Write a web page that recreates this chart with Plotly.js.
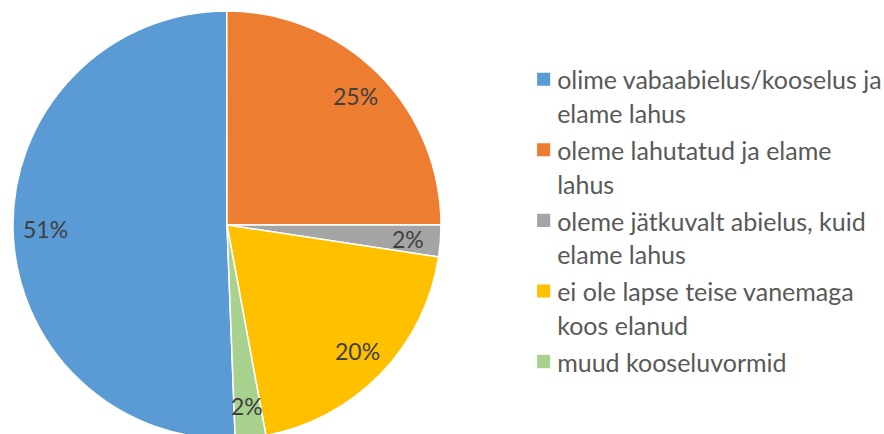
<!DOCTYPE html>
<html>
<head>
<meta charset="utf-8">
<script src="https://cdn.plot.ly/plotly-3.0.1.min.js"></script>
<style>
html,body{margin:0;padding:0;overflow:hidden;background:#fff;}
#chart{width:884px;height:450px;}
</style>
</head>
<body>
<div id="chart"></div>
<script>
var categories = [
  "olime vabaabielus/kooselus ja<br>elame lahus",
  "oleme lahutatud ja elame<br>lahus",
  "oleme jätkuvalt abielus, kuid<br>elame lahus",
  "ei ole lapse teise vanemaga<br>koos elanud",
  "muud kooseluvormid"
];
var values = [50.6, 25.0, 2.4, 19.7, 2.3];
var colors = ["#5B9BD5", "#ED7D31", "#A5A5A5", "#FFC000", "#A9D18E"];

var W = 884, H = 450;
var cx = 227, cy = 225, R = 214;
var rotation = 177.8;
var FONT = 'Lato, "Open Sans", sans-serif';

var legendLabels = categories.map(function(c){
  return '<span style="font-size:25px">' + c + '</span>';
});

// percentage labels placed along each slice's bisector, derived from the values
var total = values.reduce(function(a, b){ return a + b; }, 0);
var annotations = [];
var acc = 0;
values.forEach(function(v){
  var mid = (rotation + (acc + v / 2) / total * 360) * Math.PI / 180;
  acc += v;
  var r = 0.85 * R;
  var px = cx + r * Math.sin(mid);
  var py = cy - r * Math.cos(mid);
  annotations.push({
    xref: 'paper', yref: 'paper',
    x: px / W, y: 1 - py / H,
    xanchor: 'center', yanchor: 'middle',
    text: Math.round(v / total * 100) + '%',
    showarrow: false,
    font: {family: FONT, size: 23, color: '#404040'}
  });
});

var trace = {
  type: 'pie',
  labels: legendLabels,
  values: values,
  sort: false,
  direction: 'clockwise',
  rotation: rotation,
  marker: {colors: colors, line: {color: '#ffffff', width: 1.5}},
  textinfo: 'none',
  hoverinfo: 'none',
  domain: {x: [(cx - R) / W, (cx + R) / W], y: [(H - cy - R) / H, (H - cy + R) / H]}
};

var layout = {
  width: W, height: H,
  margin: {l: 0, r: 0, t: 0, b: 0, pad: 0, autoexpand: false},
  paper_bgcolor: '#ffffff',
  showlegend: true,
  legend: {
    x: 0.585, xanchor: 'left',
    y: 0.876, yanchor: 'top',
    valign: 'top',
    font: {family: FONT, size: 26, color: '#595959'},
    bgcolor: 'rgba(0,0,0,0)', borderwidth: 0
  },
  annotations: annotations,
  font: {family: FONT}
};

Plotly.newPlot('chart', [trace], layout, {staticPlot: true, displayModeBar: false}).then(function(gd){
  var pts = gd.querySelectorAll('.legend .legendpoints path');
  pts.forEach(function(p){
    var t = p.getAttribute('transform') || '';
    p.setAttribute('transform', t + ' translate(6.5,0) scale(1.25)');
  });
});
</script>
</body>
</html>
